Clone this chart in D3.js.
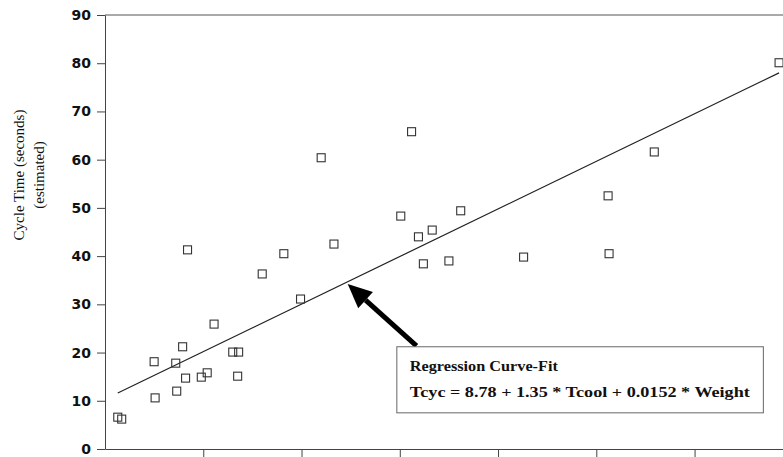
<!DOCTYPE html>
<html>
<head>
<meta charset="utf-8">
<script src="https://cdn.jsdelivr.net/npm/d3@7"></script>
<style>
body { margin: 0; background: #fff; }
.axis path, .axis line { stroke: #444; }
.ylab text { font-family: "DejaVu Sans", sans-serif; font-weight: bold; font-size: 14px; fill: #111; }
</style>
</head>
<body>
<div id="chart"></div>
<script>
/* data (x in tick units, y in seconds) */
var xVals = [0.13, 0.17, 0.50, 0.51, 0.72, 0.73, 0.79, 0.82, 0.84, 0.98, 1.04, 1.11, 1.30, 1.36, 1.35, 1.60,
	1.82, 1.99, 2.20, 2.33, 3.01, 3.12, 3.19, 3.24, 3.33, 3.50, 3.62, 4.26, 5.12, 5.13, 5.59, 6.86];
var yVals = [6.6, 6.2, 18.1, 10.6, 17.8, 12.0, 21.2, 14.7, 41.3, 14.9, 15.8, 25.9, 20.1, 20.1, 15.1, 36.3,
	40.5, 31.1, 60.4, 42.5, 48.3, 65.8, 44.0, 38.4, 45.4, 39.0, 49.4, 39.8, 52.5, 40.5, 61.6, 80.1];

var fitX = [0.13, 6.86];
var fitY = [11.6, 78.0];

var yTicks = [0, 10, 20, 30, 40, 50, 60, 70, 80, 90];
var xTicks = [1, 2, 3, 4, 5, 6];

var yTitle = ["Cycle Time (seconds)", "(estimated)"];
var boxLines = ["Regression Curve-Fit", "Tcyc = 8.78 + 1.35 * Tcool + 0.0152 * Weight"];

/* arrow tail/tip and box corners, in data units */
var arrowX = [3.17, 2.47];
var arrowY = [21.4, 34.2];
var boxX = [2.97, 6.70];
var boxY = [21.2, 7.5];

var w = 783, h = 457;
var padLeft = 105, padTop = 15, axisY = 449;

var svg = d3.select("#chart").append("svg").attr("width", w).attr("height", h);

var xScale = d3.scaleLinear().domain([0, 6.9]).range([padLeft, w]);
var yScale = d3.scaleLinear().domain([0, 90]).range([axisY, padTop]);

/* top frame line */
svg.append("line")
	.attr("x1", padLeft).attr("x2", w)
	.attr("y1", padTop).attr("y2", padTop)
	.attr("stroke", "#555");

var xAxis = d3.axisBottom(xScale).tickValues(xTicks).tickSize(8).tickFormat("").tickSizeOuter(0);
var yAxis = d3.axisLeft(yScale).tickValues(yTicks).tickSize(8).tickSizeOuter(0).tickPadding(6);

svg.append("g")
	.attr("class", "axis")
	.attr("transform", "translate(0," + axisY + ")")
	.call(xAxis);

svg.append("g")
	.attr("class", "axis ylab")
	.attr("transform", "translate(" + padLeft + ",0)")
	.call(yAxis);

/* y title, two rotated lines */
yTitle.forEach(function (t, i) {
	svg.append("text")
		.attr("transform", "translate(" + (24 + i * 20) + ",175) rotate(-90)")
		.attr("text-anchor", "middle")
		.style("font-family", "Liberation Serif, serif")
		.style("font-size", "15px")
		.style("fill", "#111")
		.text(t);
});

/* regression line */
svg.append("line")
	.attr("x1", xScale(fitX[0])).attr("y1", yScale(fitY[0]))
	.attr("x2", xScale(fitX[1])).attr("y2", yScale(fitY[1]))
	.attr("stroke", "#222")
	.attr("stroke-width", 1.2);

/* points as open squares */
var pts = d3.range(xVals.length);
svg.append("g").selectAll("rect").data(pts).enter()
	.append("rect")
	.attr("x", function (i) { return xScale(xVals[i]) - 4; })
	.attr("y", function (i) { return yScale(yVals[i]) - 4; })
	.attr("width", 8)
	.attr("height", 8)
	.attr("fill", "none")
	.attr("stroke", "#333")
	.attr("stroke-width", 1.1);

/* arrow */
var ax0 = xScale(arrowX[0]), ay0 = yScale(arrowY[0]);
var ax1 = xScale(arrowX[1]), ay1 = yScale(arrowY[1]);
var ang = Math.atan2(ay1 - ay0, ax1 - ax0);
var headLen = 24, headW = 11;
var hx = ax1 - headLen * Math.cos(ang), hy = ay1 - headLen * Math.sin(ang);
svg.append("line")
	.attr("x1", ax0).attr("y1", ay0)
	.attr("x2", hx).attr("y2", hy)
	.attr("stroke", "#000")
	.attr("stroke-width", 5);
svg.append("path")
	.attr("d", "M" + ax1 + "," + ay1 +
		"L" + (hx + headW * Math.sin(ang)) + "," + (hy - headW * Math.cos(ang)) +
		"L" + (hx - headW * Math.sin(ang)) + "," + (hy + headW * Math.cos(ang)) + "Z")
	.attr("fill", "#000");

/* annotation box */
var bx0 = xScale(boxX[0]), bx1 = xScale(boxX[1]);
var by0 = yScale(boxY[0]), by1 = yScale(boxY[1]);
svg.append("rect")
	.attr("x", bx0).attr("y", by0)
	.attr("width", bx1 - bx0).attr("height", by1 - by0)
	.attr("fill", "#fff")
	.attr("stroke", "#666");

var boxW = [148, 340];
boxLines.forEach(function (t, i) {
	svg.append("text")
		.attr("x", bx0 + 13)
		.attr("y", by0 + 24 + i * 26)
		.attr("textLength", boxW[i])
		.attr("lengthAdjust", "spacingAndGlyphs")
		.style("font-family", "Liberation Serif, serif")
		.style("font-weight", "bold")
		.style("font-size", "14px")
		.style("fill", "#111")
		.text(t);
});
</script>
</body>
</html>
